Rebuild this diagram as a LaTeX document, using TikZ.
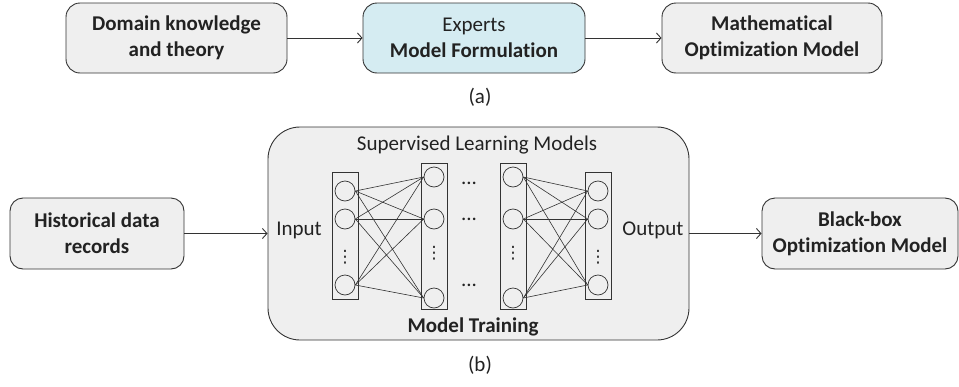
\documentclass[tikz,border=0pt]{standalone}
\usepackage{fontspec}
\setmainfont{Carlito}[Ligatures=NoCommon]
\newfontfamily\symfont{DejaVu Sans}
\usetikzlibrary{arrows.meta}
\definecolor{boxgray}{HTML}{EFEFEF}
\definecolor{boxblue}{HTML}{D5ECF2}
\definecolor{edge}{HTML}{333333}
\definecolor{txt}{HTML}{222222}
\tikzset{
  every node/.style={text=txt, font=\fontsize{21}{26}\selectfont},
  flowbox/.style={draw=edge, line width=0.9pt, fill=boxgray, rounded corners=14pt, align=center, inner sep=0pt},
  arr/.style={draw=edge, line width=0.9pt, -{Straight Barb[length=4.5pt,width=10pt]}},
  neuron/.style={circle, draw=edge, line width=0.7pt, minimum size=20pt, inner sep=0pt},
  layerbox/.style={draw=edge, line width=0.7pt, minimum width=26pt, inner sep=0pt},
  wire/.style={draw=edge, line width=0.6pt},
  plain/.style={inner sep=0pt},
  vdot/.style={inner sep=0pt, font=\symfont\fontsize{17}{17}\selectfont}
}
\begin{document}
\begin{tikzpicture}[x=1pt,y=-1pt]
\useasboundingbox (0,0) rectangle (959,386);
% (a)
\node[flowbox, minimum width=221pt, minimum height=70pt] (A) at (176.5,38) {\textbf{Domain knowledge}\\\textbf{and theory}};
\node[flowbox, fill=boxblue, minimum width=222pt, minimum height=70pt] (B) at (474,38) {Experts\\\textbf{Model Formulation}};
\node[flowbox, minimum width=220pt, minimum height=70pt] (C) at (772,38) {\textbf{Mathematical}\\\textbf{Optimization Model}};
\draw[arr] (A) -- (B);
\draw[arr] (B) -- (C);
\node[plain] (la) at (480,97) {(a)};
% (b)
\node[flowbox, rounded corners=13pt, minimum width=174pt, minimum height=71pt] (D) at (97,233.5) {\textbf{Historical data}\\\textbf{records}};
\node[flowbox, rounded corners=32pt, minimum width=421pt, minimum height=213pt] (SL) at (478.5,233.5) {};
\node[flowbox, rounded corners=13pt, minimum width=196pt, minimum height=71pt] (E) at (860,233.5) {\textbf{Black-box}\\\textbf{Optimization Model}};
\draw[arr] (D) -- (SL);
\draw[arr] (SL) -- (E);
\node[plain] (title) at (477,145) {Supervised Learning Models};
\node[plain] (train) at (473,327) {\textbf{Model Training}};
\node[plain] (inp) at (299,230) {Input};
\node[plain] (outp) at (653,230) {Output};
% layers
\node[layerbox, minimum height=127pt] (L1) at (345,235.5) {};
\node[layerbox, minimum height=146pt] (L2) at (434,236) {};
\node[layerbox, minimum height=146pt] (L3) at (513,236) {};
\node[layerbox, minimum height=127pt] (L4) at (598,235.5) {};
\node[neuron] (a1) at (345,191) {};
\node[neuron] (a2) at (345,219) {};
\node[neuron] (a3) at (345,285) {};
\node[neuron] (b1) at (434,177) {};
\node[neuron] (b2) at (434,219) {};
\node[neuron] (b3) at (434,298) {};
\node[neuron] (c1) at (513,177) {};
\node[neuron] (c2) at (513,219) {};
\node[neuron] (c3) at (513,298) {};
\node[neuron] (d1) at (598,191) {};
\node[neuron] (d2) at (598,219) {};
\node[neuron] (d3) at (598,285) {};
\foreach \s in {a1,a2,a3}{\foreach \t in {b1,b2,b3}{\draw[wire] (\s.east) -- (\t.west);}}
\foreach \s in {c1,c2,c3}{\foreach \t in {d1,d2,d3}{\draw[wire] (\s.east) -- (\t.west);}}
\node[vdot] (v1) at (345,257) {⋮};
\node[vdot] (v2) at (434,253) {⋮};
\node[vdot] (v3) at (513,253) {⋮};
\node[vdot] (v4) at (598,257) {⋮};
\node[plain] (h1) at (469,183) {...};
\node[plain] (h2) at (469,219) {...};
\node[plain] (h3) at (469,285) {...};
\node[plain] (lb) at (480,365) {(b)};
\end{tikzpicture}
\end{document}
